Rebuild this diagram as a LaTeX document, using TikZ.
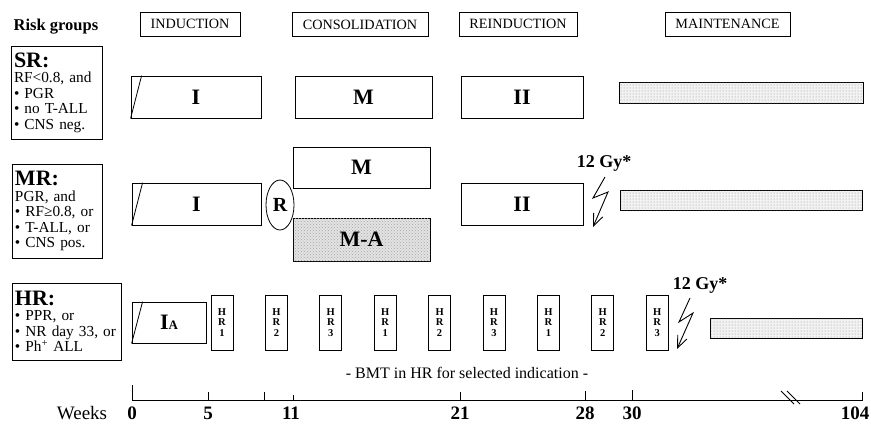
\documentclass[tikz,border=0pt]{standalone}
\usepackage{fontspec}
\setmainfont{Liberation Serif}
\usetikzlibrary{shapes.geometric,patterns,arrows.meta}

\begin{document}
\begin{tikzpicture}[x=1pt, y=-1pt, line width=0.8pt, node distance=54.4pt,
  phase/.style={draw, minimum height=24pt, inner sep=0pt, font=\fontsize{14.2}{15}\selectfont},
  group/.style={draw, align=left, inner xsep=3pt, inner ysep=0pt, font=\fontsize{15.3}{15.5}\selectfont},
  block/.style={draw, minimum height=42pt, inner sep=0pt, font=\bfseries\fontsize{22}{24}\selectfont},
  maint/.style={draw, minimum height=21pt, inner sep=0pt, fill=gray!10, postaction={pattern=dots, pattern color=gray!90}},
  hrblock/.style={draw, minimum width=22pt, minimum height=55pt, inner sep=0pt, align=center, font=\bfseries\fontsize{10.5}{10.5}\selectfont},
  dose/.style={font=\bfseries\fontsize{18}{20}\selectfont},
  bolt/.style={-{Straight Barb[length=12pt,width=10pt]}, line width=0.9pt},
  week/.style={anchor=base, font=\bfseries\fontsize{19}{21}\selectfont}]
\useasboundingbox (0,0) rectangle (871,424);

\node[font=\bfseries\fontsize{16.5}{18}\selectfont] (risk) at (56,27) {Risk groups};
\node[phase, minimum width=100pt] (ind) at (190,24) {INDUCTION};
\node[phase, minimum width=136pt] (cons) at (360,24.5) {CONSOLIDATION};
\node[phase, minimum width=118pt] (reind) at (518,24) {REINDUCTION};
\node[phase, minimum width=125pt] (maint) at (727.5,24) {MAINTENANCE};

% standard risk
\node[group, text width=85pt, minimum height=93pt] (sr) at (56.5,92.5) {{\bfseries\fontsize{22}{24}\selectfont SR:}\\RF<0.8, and\\• PGR\\• no T-ALL\\• CNS neg.};
\node[block, minimum width=130pt] (sri) at (196,97) {I};
\draw ([xshift=11pt]sri.north west) -- (sri.south west);
\node[block, minimum width=137pt] (srm) at (363.5,97) {M};
\node[block, minimum width=122pt] (srii) at (522,97) {II};
\node[maint, minimum width=244pt] (srmt) at (741,92.5) {};

% medium risk
\node[group, text width=84pt, minimum height=94pt] (mr) at (57,211) {{\bfseries\fontsize{22}{24}\selectfont MR:}\\PGR, and\\• RF≥0.8, or\\• T-ALL, or\\• CNS pos.};
\node[block, minimum width=129pt] (mri) at (196.5,204) {I};
\draw ([xshift=11pt]mri.north west) -- (mri.south west);
\node[draw, ellipse, minimum width=28pt, minimum height=50pt, inner sep=0pt, font=\bfseries\fontsize{20}{22}\selectfont] (rand) at (280,205) {R};
\node[block, minimum width=137pt, minimum height=41pt] (mrm) at (361.5,167.5) {M};
\node[block, minimum width=137pt, minimum height=43pt, fill=gray!22, postaction={pattern=crosshatch dots, pattern color=gray!70}] (mrma) at (361.5,239.5) {M-A};
\node[block, minimum width=122pt] (mrii) at (522,204) {II};
\node[dose] (gym) at (604,163) {12 Gy*};
\coordinate (boltm) at (605,177);
\draw[bolt] (boltm) -- ++(-12,21) -- ++(15,-6) -- ++(-15,35);
\node[maint, minimum width=242pt, minimum height=20pt] (mrmt) at (741,200) {};

% high risk
\node[group, text width=103pt, minimum height=77pt] (hr) at (66.5,321.5) {{\bfseries\fontsize{22}{24}\selectfont HR:}\\• PPR, or\\• NR day 33, or\\• Ph\textsuperscript{+} ALL};
\node[block, minimum width=74pt, minimum height=41pt] (hria) at (169,322.5) {I{\fontsize{13}{14}\selectfont A}};
\draw ([xshift=11pt]hria.north west) -- (hria.south west);
\node[hrblock] (hra) at (222,322.5) {H\\R\\1};
\node[hrblock, right of=hra] (hrb) {H\\R\\2};
\node[hrblock, right of=hrb] (hrc) {H\\R\\3};
\node[hrblock, right of=hrc] (hrd) {H\\R\\1};
\node[hrblock, right of=hrd] (hre) {H\\R\\2};
\node[hrblock, right of=hre] (hrf) {H\\R\\3};
\node[hrblock, right of=hrf] (hrg) {H\\R\\1};
\node[hrblock, right of=hrg] (hrh) {H\\R\\2};
\node[hrblock, right of=hrh] (hri) {H\\R\\3};
\node[dose] (gyh) at (700,285) {12 Gy*};
\coordinate (bolth) at (690,298);
\draw[bolt] (bolth) -- ++(-11,24) -- ++(14,-9) -- ++(-16,36);
\node[maint, minimum width=152pt, minimum height=20pt] (hrmt) at (786,328) {};
\node[font=\fontsize{16}{18}\selectfont] (bmt) at (467,373) {- BMT in HR for selected indication -};

% time axis
\draw (132,385) -- (132,400) -- (862,400) -- (862,392);
\draw (208,392) -- (208,400);
\draw (264,392) -- (264,400);
\draw (293,395) -- (293,400);
\draw (460,392) -- (460,400);
\draw (585,391) -- (585,400);
\draw (632,390) -- (632,400);
\draw (781,391) -- (794,404);
\draw (787,391) -- (800,404);
\node[anchor=base, font=\fontsize{19}{21}\selectfont] (weeks) at (82,419.5) {Weeks};
\node[week] (w0) at (132,419.5) {0};
\node[week] (w5) at (208,419.5) {5};
\node[week] (w11) at (291,419.5) {11};
\node[week] (w21) at (460,419.5) {21};
\node[week] (w28) at (585,419.5) {28};
\node[week] (w30) at (632,419.5) {30};
\node[week] (w104) at (855,419.5) {104};
\end{tikzpicture}
\end{document}
